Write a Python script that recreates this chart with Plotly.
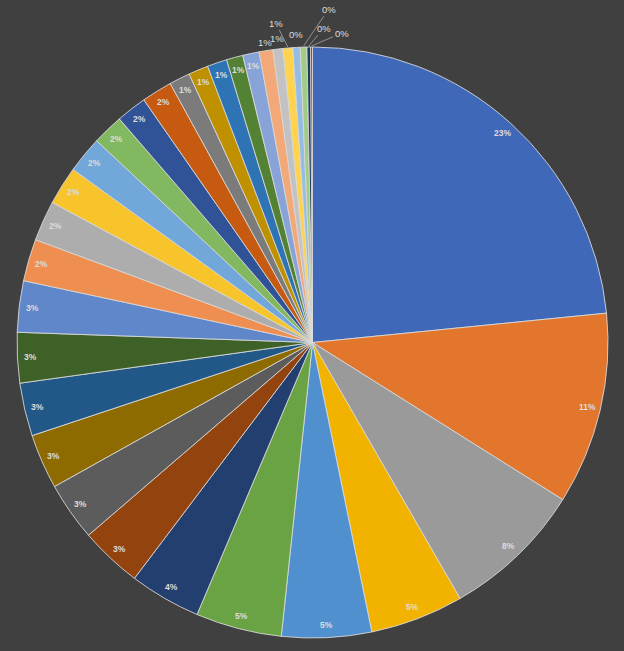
import numpy as np
import plotly.graph_objects as go

# Slice shares (percent), clockwise from 12 o'clock
values = [23.4, 10.5, 7.75, 5.1, 4.9, 4.7, 3.9, 3.4, 3.2, 3.0, 2.9, 2.75,
          2.8, 2.3, 2.2, 2.1, 2.0, 1.7, 1.67, 1.67, 1.14, 1.08, 1.08, 0.9,
          0.9, 0.75, 0.55, 0.53, 0.4, 0.36, 0.2, 0.1]
labels = [f"Item {i+1}" for i in range(len(values))]
colors = ["#3F69B8", "#E2762D", "#9A9A9A", "#F2B300", "#5090CF", "#69A343",
          "#233F70", "#93430D", "#5C5C5C", "#8E6B00", "#225888", "#3E6128",
          "#6187CB", "#EE8E50", "#ADADAD", "#F7C42C", "#72A7D9", "#82B960",
          "#2F5396", "#C75A11", "#7B7B7B", "#BF9000", "#2E74B5", "#548235",
          "#87A3D8", "#F2A877", "#C2C2C2", "#FFD34D", "#95BDE3", "#A1CC85",
          "#203864", "#843C0C"]

BG = "#404040"
W, H = 624, 651
ML, MT, SIDE = 17, 47, 591
MR = W - ML - SIDE
MB = H - MT - SIDE
R = SIDE / 2.0

fig = go.Figure(go.Pie(
    labels=labels, values=values, sort=False, direction="clockwise", rotation=0,
    marker=dict(colors=colors, line=dict(color="rgba(220,220,220,0.85)", width=1)),
    textinfo="none", hoverinfo="label+percent", showlegend=False,
))

v = np.array(values, dtype=float)
frac = v / v.sum()
ends = np.cumsum(frac) * 360.0
mids = ends - frac * 180.0
pct = [f"{round(f * 100):.0f}%" for f in frac]

font = dict(family="Liberation Sans, Arial, sans-serif", size=8.5, color="#DDDDDD")
font_out = dict(family="Liberation Sans, Arial, sans-serif", size=9.5, color="#DDDDDD")
ann = []

def to_paper(r_px, ang):
    t = np.deg2rad(ang)
    return 0.5 + r_px * np.sin(t) / SIDE, 0.5 + r_px * np.cos(t) / SIDE

# inside-end labels
n_inside = 25
for i in range(n_inside):
    x, y = to_paper(R - 13, mids[i])
    ann.append(dict(x=x, y=y, xref="paper", yref="paper", text="<b>" + pct[i] + "</b>",
                    xanchor="center", yanchor="middle", showarrow=False, font=font))

# outside labels without leader
for i, rr in [(25, 304), (26, 306), (28, 308)]:
    x, y = to_paper(rr, mids[i])
    ann.append(dict(x=x, y=y, xref="paper", yref="paper", text=pct[i],
                    xanchor="center", yanchor="middle", showarrow=False, font=font_out))

# outside labels with leader lines (offsets in px)
for i, ax, ay in [(27, -12, -24), (29, 25, -37), (30, 15, -18), (31, 30, -13)]:
    x, y = to_paper(R + 1, mids[i])
    ann.append(dict(x=x, y=y, xref="paper", yref="paper", text=pct[i],
                    xanchor="center", yanchor="middle",
                    showarrow=True, arrowhead=0, arrowwidth=0.8, arrowcolor="#A6A6A6",
                    ax=ax, ay=ay, standoff=0, font=font_out))

fig.update_layout(
    width=W, height=H, paper_bgcolor=BG, plot_bgcolor=BG,
    margin=dict(l=ML, r=MR, t=MT, b=MB, pad=0),
    annotations=ann,
)
fig.write_html("out.html", config={"displayModeBar": False},
               post_script="document.body.style.margin='0';document.body.style.background='#404040';")
